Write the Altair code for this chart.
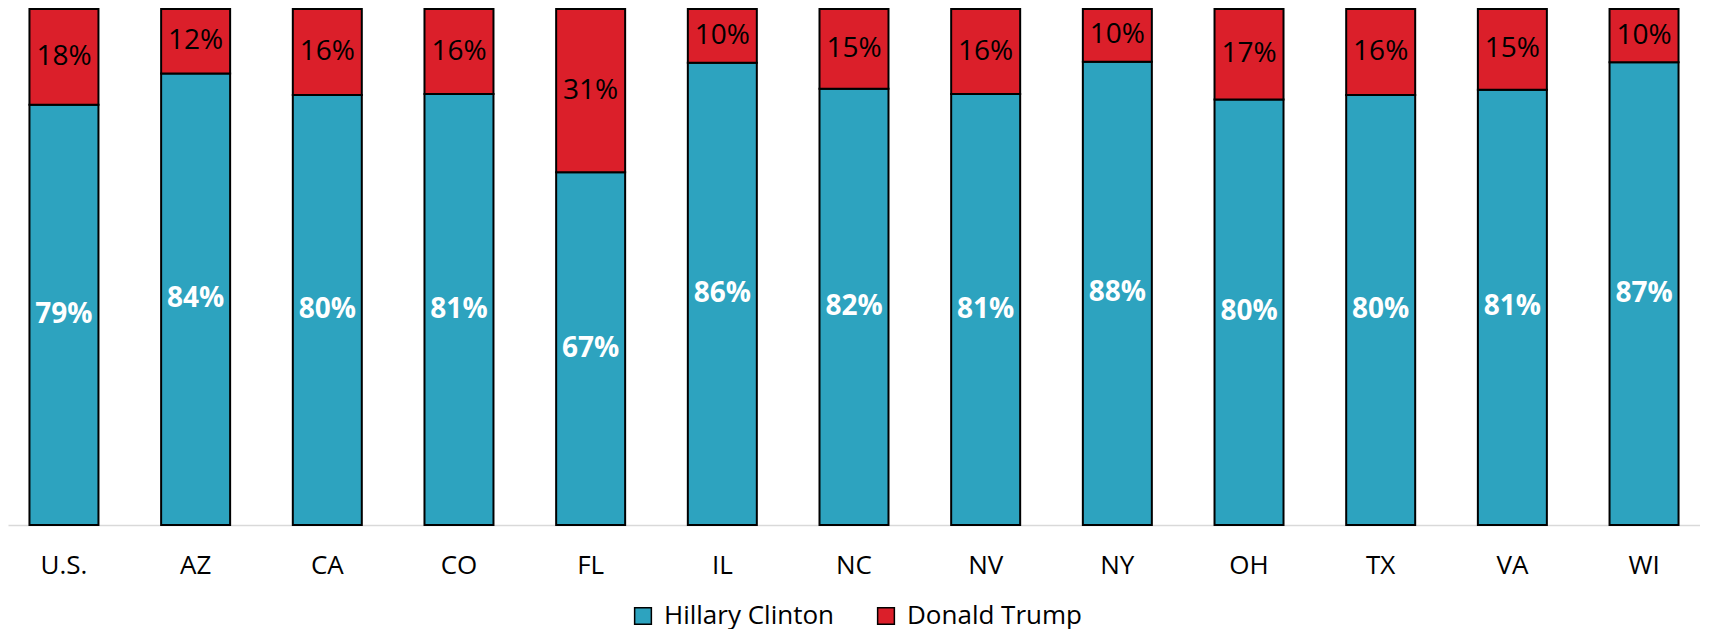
import altair as alt
import pandas as pd

states = ["U.S.", "AZ", "CA", "CO", "FL", "IL", "NC", "NV", "NY", "OH", "TX", "VA", "WI"]
clinton = [79, 84, 80, 81, 67, 86, 82, 81, 88, 80, 80, 81, 87]
trump = [18, 12, 16, 16, 31, 10, 15, 16, 10, 17, 16, 15, 10]
series = ["Hillary Clinton", "Donald Trump"]
colors = ["#2DA3BF", "#DB1F2A"]

rows = []
for s, c, t in zip(states, clinton, trump):
    rows.append({"state": s, "candidate": series[0], "value": c, "ord": 0})
    rows.append({"state": s, "candidate": series[1], "value": t, "ord": 1})
df = pd.DataFrame(rows)

FONT = "Open Sans"

base = alt.Chart(df).transform_joinaggregate(
    total="sum(value)", groupby=["state"]
).transform_calculate(
    share="datum.value / datum.total",
    label="datum.value + '%'"
).transform_window(
    cum="sum(share)", groupby=["state"], sort=[alt.SortField("ord")]
).transform_calculate(
    lo="datum.cum - datum.share",
    mid="datum.cum - datum.share / 2"
)

x = alt.X("state:N", sort=states, title=None,
          scale=alt.Scale(paddingInner=0.476, paddingOuter=0.163),
          axis=alt.Axis(labelAngle=0, labelFont=FONT, labelFontSize=26,
                        labelColor="#000000", labelPadding=27, ticks=False,
                        domainColor="#D9D9D9", domainWidth=1.5, grid=False))

bars = base.mark_bar(stroke="#000000", strokeWidth=2).encode(
    x=x,
    y=alt.Y("lo:Q", scale=alt.Scale(domain=[0, 1], nice=False), axis=None),
    y2="cum:Q",
    color=alt.Color("candidate:N", sort=series,
                    scale=alt.Scale(domain=series, range=colors),
                    legend=alt.Legend(title=None, orient="none", direction="horizontal",
                                      legendX=622, legendY=594,
                                      symbolType="square", symbolSize=280,
                                      symbolStrokeColor="#000000", symbolStrokeWidth=1.5,
                                      labelFont=FONT, labelFontSize=26, labelColor="#000000",
                                      labelLimit=0, columnPadding=38, labelOffset=8,
                                      symbolOpacity=1)),
)

txt_red = base.transform_filter("datum.ord == 1").mark_text(
    font=FONT, fontSize=28, color="#000000", baseline="middle"
).encode(x=alt.X("state:N", sort=states), y="mid:Q", text="label:N")

txt_blue = base.transform_filter("datum.ord == 0").mark_text(
    font=FONT, fontSize=28, fontWeight="bold", color="#FFFFFF", baseline="middle"
).encode(x=alt.X("state:N", sort=states), y="mid:Q", text="label:N")

chart = alt.layer(bars, txt_red, txt_blue).properties(
    width=1692, height=516, padding=0, background="#FFFFFF"
).configure_view(stroke=None, strokeWidth=0)

chart.save("out.html", embed_options={"renderer": "svg", "actions": False})
